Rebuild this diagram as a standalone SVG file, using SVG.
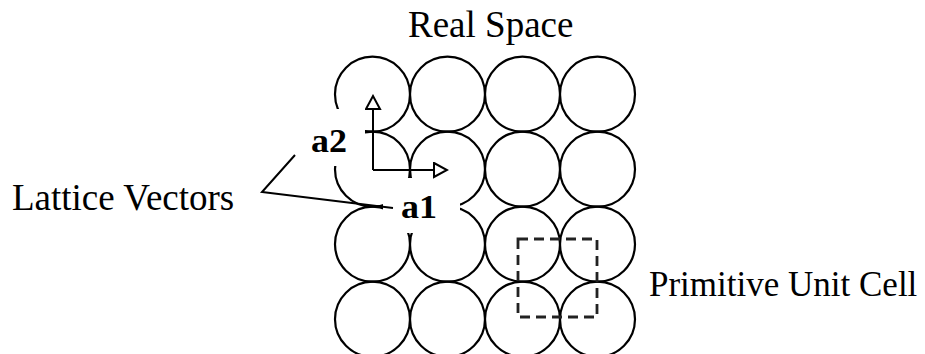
<svg xmlns="http://www.w3.org/2000/svg" width="925" height="354" viewBox="0 0 925 354">
<style>
.c{fill:none;stroke:#000;stroke-width:2.2}
.t{font-family:"Liberation Serif","Times New Roman",serif;font-size:37px;fill:#000}
.b{font-family:"Liberation Serif","Times New Roman",serif;font-size:33px;font-weight:bold;fill:#000}
.m{fill:#fff;stroke:none}
.ln{fill:none;stroke:#000;stroke-width:2}
</style>
<defs>
<marker id="ah" markerWidth="16" markerHeight="18" refX="14" refY="8" orient="auto" markerUnits="userSpaceOnUse">
<path d="M1,1 L14,8 L1,15 Z" fill="#fff" stroke="#000" stroke-width="2"/>
</marker>
</defs>
<rect width="925" height="354" fill="#fff"/>
<g id="lattice">
<circle class="c" cx="372.5" cy="94.2" r="37.5"/>
<circle class="c" cx="447.5" cy="94.2" r="37.5"/>
<circle class="c" cx="522.5" cy="94.2" r="37.5"/>
<circle class="c" cx="597.5" cy="94.2" r="37.5"/>
<circle class="c" cx="372.5" cy="169.2" r="37.5"/>
<circle class="c" cx="447.5" cy="169.2" r="37.5"/>
<circle class="c" cx="522.5" cy="169.2" r="37.5"/>
<circle class="c" cx="597.5" cy="169.2" r="37.5"/>
<circle class="c" cx="372.5" cy="244.2" r="37.5"/>
<circle class="c" cx="447.5" cy="244.2" r="37.5"/>
<circle class="c" cx="522.5" cy="244.2" r="37.5"/>
<circle class="c" cx="597.5" cy="244.2" r="37.5"/>
<circle class="c" cx="372.5" cy="319.2" r="37.5"/>
<circle class="c" cx="447.5" cy="319.2" r="37.5"/>
<circle class="c" cx="522.5" cy="319.2" r="37.5"/>
<circle class="c" cx="597.5" cy="319.2" r="37.5"/>
</g>
<g id="unit-cell">
<rect x="518" y="239" width="79" height="78" fill="none" stroke="#222" stroke-width="2.8" stroke-dasharray="10 6"/>
</g>
<g id="label-a2">
<rect class="m" x="300" y="109" width="65" height="57"/>
<text class="b" x="311" y="152" textLength="36" lengthAdjust="spacingAndGlyphs">a2</text>
</g>
<g id="label-a1">
<rect class="m" x="383" y="178" width="77" height="55"/>
<text class="b" x="401" y="218" textLength="36" lengthAdjust="spacingAndGlyphs">a1</text>
</g>
<g id="connectors">
<line class="ln" x1="373" y1="170" x2="373" y2="96" marker-end="url(#ah)"/>
<line class="ln" x1="373" y1="170" x2="447" y2="170" marker-end="url(#ah)"/>
<polyline class="ln" points="295,155 262,192 393,208"/>
</g>
<g id="title"><text class="t" x="408" y="37">Real Space</text></g>
<g id="label-lattice-vectors"><text class="t" x="12" y="210">Lattice Vectors</text></g>
<g id="label-unit-cell"><text class="t" x="649" y="296" style="font-size:35px">Primitive Unit Cell</text></g>
</svg>
